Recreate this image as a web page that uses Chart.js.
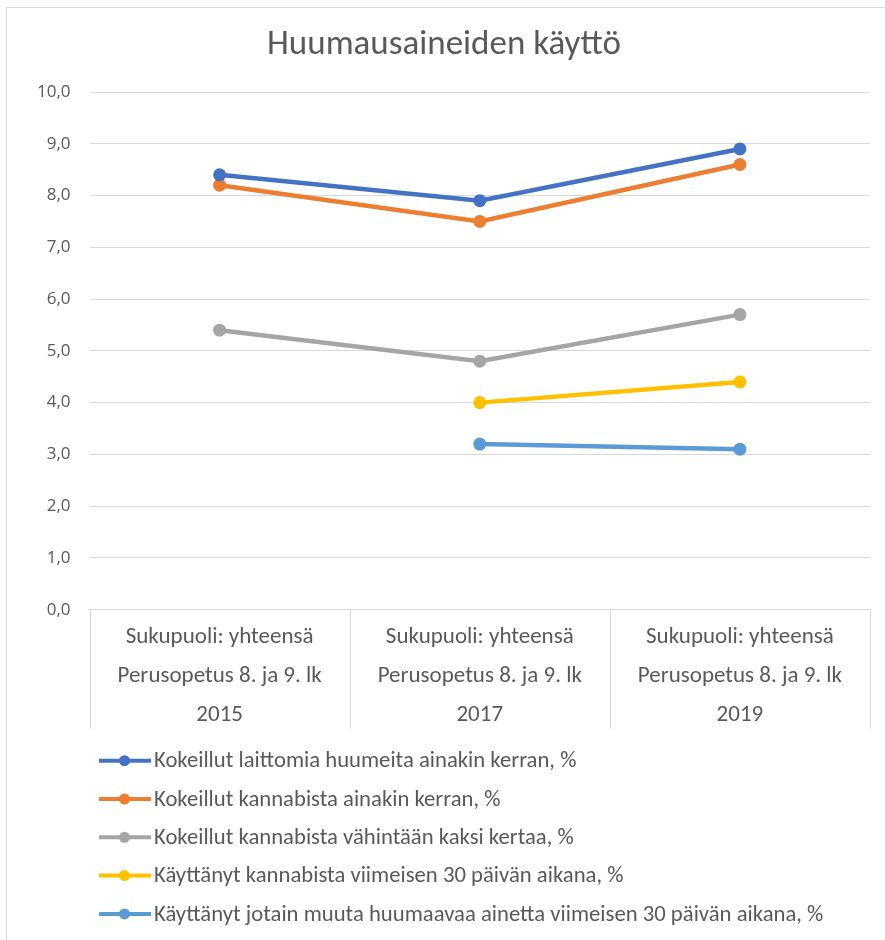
<!DOCTYPE html>
<html>
<head>
<meta charset="utf-8">
<title>Huumausaineiden käyttö</title>
<script src="https://cdn.jsdelivr.net/npm/chart.js@4.4.0/dist/chart.umd.min.js"></script>
<style>
  html, body { margin: 0; padding: 0; background: #fff; }
  #wrap { position: relative; width: 885px; height: 940px; }
</style>
</head>
<body>
<div id="wrap"><canvas id="chart"></canvas></div>
<script>
// --- Data ---
const categories = [
  ["Sukupuoli: yhteensä", "Perusopetus 8. ja 9. lk", "2015"],
  ["Sukupuoli: yhteensä", "Perusopetus 8. ja 9. lk", "2017"],
  ["Sukupuoli: yhteensä", "Perusopetus 8. ja 9. lk", "2019"],
];
const seriesNames = [
  "Kokeillut laittomia huumeita ainakin kerran, %",
  "Kokeillut kannabista ainakin kerran, %",
  "Kokeillut kannabista vähintään kaksi kertaa, %",
  "Käyttänyt kannabista viimeisen 30 päivän aikana, %",
  "Käyttänyt jotain muuta huumaavaa ainetta viimeisen 30 päivän aikana, %",
];
const kokeillutHuumeita = [8.4, 7.9, 8.9];
const kokeillutKannabista = [8.2, 7.5, 8.6];
const kannabistaKaksiKertaa = [5.4, 4.8, 5.7];
const kannabista30pv = [null, 4.0, 4.4];
const muuHuume30pv = [null, 3.2, 3.1];
const yTicks = [0, 1, 2, 3, 4, 5, 6, 7, 8, 9, 10];

const seriesValues = [kokeillutHuumeita, kokeillutKannabista, kannabistaKaksiKertaa, kannabista30pv, muuHuume30pv];
const seriesColors = ["#4472C4", "#ED7D31", "#A5A5A5", "#FFC000", "#5B9BD5"];

const FONT = "'Carlito', 'Lato', 'Open Sans', sans-serif";
const TEXT_COLOR = "#595959";
const GRID_COLOR = "#d9d9d9";

// ulkoreunus kuvan tapaan
const borderPlugin = {
  id: "outerBorder",
  beforeDraw(chart) {
    const ctx = chart.ctx;
    ctx.save();
    ctx.strokeStyle = GRID_COLOR;
    ctx.lineWidth = 1;
    ctx.strokeRect(6.5, 7.5, chart.width + 20, chart.height + 20);
    ctx.restore();
  },
};

// luokka-akselin pystyviivat (laatikot otsikoiden ympärillä)
const separatorPlugin = {
  id: "categorySeparators",
  afterDraw(chart) {
    const x = chart.scales.x;
    const ctx = chart.ctx;
    const n = chart.data.labels.length;
    const half = (x.right - x.left) / n / 2;
    const top = x.top;
    ctx.save();
    ctx.strokeStyle = GRID_COLOR;
    ctx.lineWidth = 1;
    for (let i = 0; i <= n; i++) {
      const px = Math.round(i < n ? x.getPixelForValue(i) - half : x.getPixelForValue(n - 1) + half) + 0.5;
      ctx.beginPath();
      ctx.moveTo(px, top);
      ctx.lineTo(px, top + 119);
      ctx.stroke();
    }
    ctx.restore();
  },
};

// legenda pystylistana kaavion alle
const legendPlugin = {
  id: "columnLegend",
  afterDraw(chart) {
    const ctx = chart.ctx;
    const startY = chart.scales.x.top + 151;
    const step = 38.3;
    ctx.save();
    chart.data.datasets.forEach((ds, i) => {
      const y = startY + i * step;
      ctx.strokeStyle = ds.borderColor;
      ctx.lineWidth = 4;
      ctx.beginPath();
      ctx.moveTo(99, y);
      ctx.lineTo(151, y);
      ctx.stroke();
      ctx.fillStyle = ds.borderColor;
      ctx.beginPath();
      ctx.arc(124.5, y, 5.5, 0, Math.PI * 2);
      ctx.fill();
      ctx.fillStyle = TEXT_COLOR;
      ctx.font = "22.7px " + FONT;
      ctx.textBaseline = "middle";
      ctx.textAlign = "left";
      ctx.fillText(ds.label, 154, y + 1);
    });
    ctx.restore();
  },
};

const datasets = seriesNames.map((name, i) => ({
  label: name,
  data: seriesValues[i],
  borderColor: seriesColors[i],
  backgroundColor: seriesColors[i],
  borderWidth: 4.5,
  pointRadius: 6.5,
  pointHoverRadius: 6.5,
  pointBorderWidth: 0,
  tension: 0,
  spanGaps: false,
}));

new Chart(document.getElementById("chart"), {
  type: "line",
  data: { labels: categories, datasets: datasets },
  plugins: [borderPlugin, separatorPlugin, legendPlugin],
  options: {
    responsive: true,
    maintainAspectRatio: false,
    animation: false,
    layout: { padding: { left: 18, right: 15, top: 0, bottom: 198 } },
    plugins: {
      legend: { display: false },
      tooltip: { enabled: false },
      title: {
        display: true,
        text: "Huumausaineiden käyttö",
        color: TEXT_COLOR,
        font: { family: FONT, size: 35, weight: "normal" },
        padding: { top: 24, bottom: 26 },
      },
    },
    scales: {
      x: {
        type: "category",
        offset: true,
        border: { display: true, color: GRID_COLOR },
        grid: { display: false, drawTicks: false },
        ticks: {
          color: TEXT_COLOR,
          font: { family: FONT, size: 23, lineHeight: 1.7 },
          padding: 7.5,
          maxRotation: 0,
          autoSkip: false,
        },
      },
      y: {
        min: 0,
        max: 10,
        border: { display: false },
        grid: { color: GRID_COLOR, drawTicks: false },
        afterBuildTicks(scale) {
          scale.ticks = yTicks.map((v) => ({ value: v }));
        },
        ticks: {
          color: TEXT_COLOR,
          font: { family: "'Open Sans', sans-serif", size: 17 },
          padding: 19,
          callback: (v) => v.toFixed(1).replace(".", ","),
        },
      },
    },
  },
});
</script>
</body>
</html>
